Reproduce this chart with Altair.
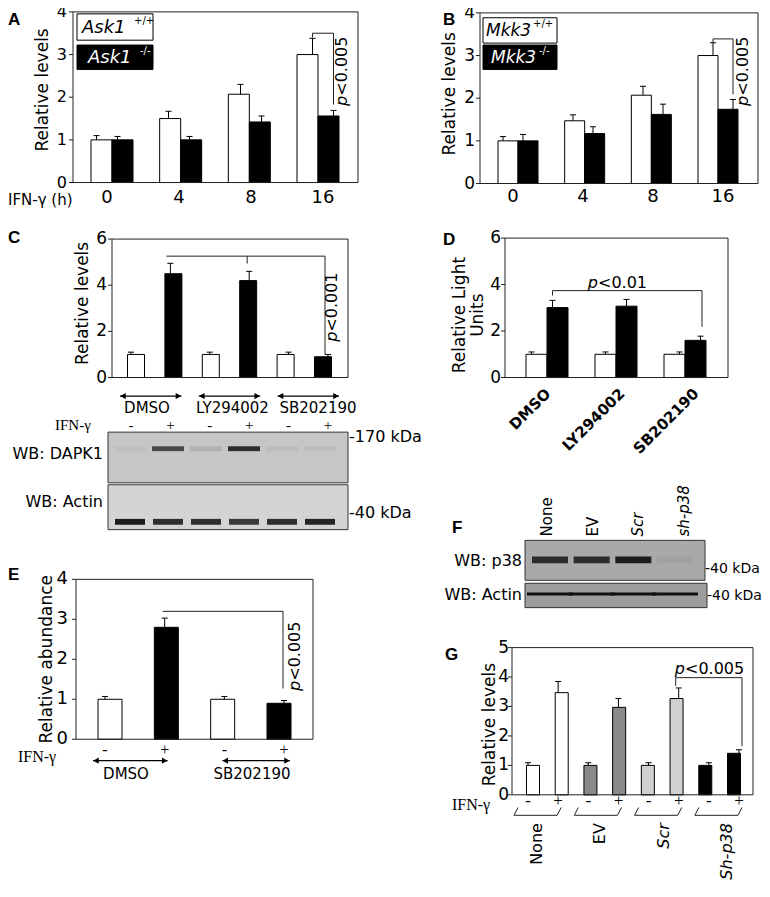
import altair as alt
import pandas as pd

# ---------------- data ----------------
a_groups = ["0", "4", "8", "16"]
a_wt = [1.0, 1.5, 2.07, 3.0]
a_wt_err = [0.1, 0.17, 0.23, 0.38]
a_ko = [1.0, 1.0, 1.42, 1.56]
a_ko_err = [0.08, 0.08, 0.14, 0.13]
a_yticks = [0, 1, 2, 3, 4]

b_groups = ["0", "4", "8", "16"]
b_wt = [1.0, 1.47, 2.07, 3.0]
b_wt_err = [0.1, 0.14, 0.21, 0.3]
b_ko = [1.0, 1.17, 1.62, 1.74]
b_ko_err = [0.15, 0.16, 0.24, 0.23]
b_yticks = [0, 1, 2, 3, 4]

c_ifn = ["-", "+", "-", "+", "-", "+"]
c_vals = [1.0, 4.5, 1.0, 4.2, 1.0, 0.9]
c_err = [0.1, 0.45, 0.1, 0.4, 0.1, 0.1]
c_groups = ["DMSO", "LY294002", "SB202190"]
c_yticks = [0, 2, 4, 6]
c_dapk1 = [0.04, 0.75, 0.12, 0.92, 0.06, 0.06]
c_actin = [0.95, 0.85, 0.85, 0.8, 0.85, 0.9]

d_groups = ["DMSO", "LY294002", "SB202190"]
d_ctrl = [1.0, 1.0, 1.0]
d_ctrl_err = [0.1, 0.1, 0.1]
d_ifn = [3.01, 3.07, 1.6]
d_ifn_err = [0.31, 0.29, 0.18]
d_yticks = [0, 2, 4, 6]

e_ifn = ["-", "+", "-", "+"]
e_vals = [1.0, 2.8, 1.0, 0.9]
e_err = [0.07, 0.23, 0.07, 0.07]
e_groups = ["DMSO", "SB202190"]
e_yticks = [0, 1, 2, 3, 4]

f_lanes = ["None", "EV", "Scr", "sh-p38"]
f_p38 = [0.85, 0.85, 0.95, 0.06]
f_actin = [1.0, 1.0, 1.0, 1.0]

g_groups = ["None", "EV", "Scr", "Sh-p38"]
g_ifn = ["-", "+", "-", "+", "-", "+", "-", "+"]
g_vals = [1.0, 3.47, 1.0, 2.97, 1.0, 3.27, 1.0, 1.41]
g_err = [0.09, 0.38, 0.09, 0.3, 0.09, 0.36, 0.09, 0.12]
g_yticks = [0, 1, 2, 3, 4, 5]

# ---------------- helpers ----------------
W, H = 754, 874
SY = 0.975
SANS = "DejaVu Sans"
SERIF = "Liberation Serif"
BOLD = "Liberation Sans"
LINE = "#222222"


def PX(x):
    return x - 8


def PY(y):
    return y * SY


def xs(n, first, last):
    return alt.Scale(domain=[0, n - 1], range=[PX(first), PX(last)], nice=False)


def ys(vmax, bottom, top):
    return alt.Scale(domain=[0, vmax], range=[PY(bottom), PY(top)], nice=False)


def one():
    return pd.DataFrame({"k": [0]})


def text(label, x, y, size=16, align="center", baseline="middle", angle=None,
         font=SANS, style="normal", weight="normal", color="black"):
    props = dict(align=align, baseline=baseline, font=font, fontSize=size,
                 fontStyle=style, fontWeight=weight, color=color)
    if angle is not None:
        props["angle"] = angle
    return alt.Chart(pd.DataFrame({"t": [label]})).mark_text(**props).encode(
        text="t:N", x=alt.value(PX(x)), y=alt.value(PY(y)))


def box(x0, x1, y0, y1, fill="transparent", stroke=LINE, sw=1):
    return alt.Chart(one()).mark_rect(fill=fill, stroke=stroke, strokeWidth=sw).encode(
        x=alt.value(PX(x0)), x2=alt.value(PX(x1)), y=alt.value(PY(y0)), y2=alt.value(PY(y1)))


def bar_layers(df, sc, ysc, vcol, topcol, width, xoff=0.0, fill=None, fillenc=None):
    mk = dict(width=width, xOffset=xoff, stroke="black", strokeWidth=1, orient="vertical")
    if fill:
        mk["fill"] = fill
    enc = dict(x=alt.X("i:Q", scale=sc, axis=None), y=alt.Y(f"{vcol}:Q", scale=ysc, axis=None))
    if fillenc is not None:
        enc["fill"] = fillenc
    b = alt.Chart(df).mark_bar(**mk).encode(**enc)
    stem = alt.Chart(df).mark_rule(color="black", strokeWidth=1, xOffset=xoff).encode(
        x=alt.X("i:Q", scale=sc, axis=None), y=alt.Y(f"{vcol}:Q", scale=ysc, axis=None),
        y2=alt.Y2(topcol))
    cap = alt.Chart(df).mark_rule(color="black", strokeWidth=1, xOffset=xoff - 3,
                                  x2Offset=xoff + 3).encode(
        x=alt.X("i:Q", scale=sc, axis=None), x2=alt.X2("i"),
        y=alt.Y(f"{topcol}:Q", scale=ysc, axis=None))
    return [b, stem, cap]


def seg(sc, ysc, x1, x2, y1, y2, o1=0.0, o2=0.0, color=LINE):
    df = pd.DataFrame({"x1": [x1], "x2": [x2], "y1": [y1], "y2": [y2]})
    enc = {"x": alt.X("x1:Q", scale=sc, axis=None), "x2": alt.X2("x2")}
    if ysc is None:
        enc["y"] = alt.value(PY(y1))
        enc["y2"] = alt.value(PY(y2))
    else:
        enc["y"] = alt.Y("y1:Q", scale=ysc, axis=None)
        enc["y2"] = alt.Y2("y2")
    return alt.Chart(df).mark_rule(color=color, strokeWidth=1, xOffset=o1, x2Offset=o2).encode(**enc)


def bracket(sc, ysc, xa, oa, xb, ob, level, enda=None, endb=None):
    out = [seg(sc, ysc, xa, xb, level, level, oa, ob)]
    if enda is not None:
        out.append(seg(sc, ysc, xa, xa, level, enda, oa, oa))
    if endb is not None:
        out.append(seg(sc, ysc, xb, xb, level, endb, ob, ob))
    return out


def ptext(x, y, rest, angle=None, size=16):
    if angle == 270:
        return [text("p", x, y, size, align="right", angle=270, style="italic"),
                text(rest, x, y, size, align="left", angle=270)]
    return [text("p", x, y, size, align="right", style="italic"),
            text(rest, x, y, size, align="left")]


def yaxis(ticks, ysc, frame_left, label_right, size):
    df = pd.DataFrame({"v": ticks, "t": [str(t) for t in ticks]})
    tk = alt.Chart(df).mark_rule(color=LINE, strokeWidth=1).encode(
        y=alt.Y("v:Q", scale=ysc, axis=None),
        x=alt.value(PX(frame_left - 4)), x2=alt.value(PX(frame_left)))
    lb = alt.Chart(df).mark_text(align="right", baseline="middle", font=SANS, fontSize=size).encode(
        y=alt.Y("v:Q", scale=ysc, axis=None), x=alt.value(PX(label_right)), text="t:N")
    return [tk, lb]


def xlabels(labels, sc, y, size=16, font=SANS, style="normal", weight="normal",
            angle=None, align="center", baseline="middle", xoff=0, idx=None):
    df = pd.DataFrame({"i": idx if idx is not None else list(range(len(labels))), "t": labels})
    props = dict(align=align, baseline=baseline, font=font, fontSize=size, fontStyle=style,
                 fontWeight=weight, color="black", xOffset=xoff)
    if angle is not None:
        props["angle"] = angle
    return alt.Chart(df).mark_text(**props).encode(
        x=alt.X("i:Q", scale=sc, axis=None), y=alt.value(PY(y)), text="t:N")


def arrow(sc, i1, o1, i2, o2, y):
    df = pd.DataFrame({"a": [i1], "b": [i2]})
    line = alt.Chart(df).mark_rule(color="black", strokeWidth=1.3, xOffset=o1, x2Offset=o2).encode(
        x=alt.X("a:Q", scale=sc, axis=None), x2=alt.X2("b"), y=alt.value(PY(y)))
    left = alt.Chart(df).mark_point(shape="triangle-left", size=40, filled=True, color="black",
                                    opacity=1, xOffset=o1 + 3).encode(
        x=alt.X("a:Q", scale=sc, axis=None), y=alt.value(PY(y)))
    right = alt.Chart(df).mark_point(shape="triangle-right", size=40, filled=True, color="black",
                                     opacity=1, xOffset=o2 - 3).encode(
        x=alt.X("b:Q", scale=sc, axis=None), y=alt.value(PY(y)))
    return [line, left, right]


def bands(vals, sc, yc, h, w, color):
    df = pd.DataFrame({"i": list(range(len(vals))), "v": vals})
    return alt.Chart(df).mark_bar(width=w, color=color, orient="vertical").encode(
        x=alt.X("i:Q", scale=sc, axis=None),
        y=alt.value(PY(yc - h / 2)), y2=alt.value(PY(yc + h / 2)),
        opacity=alt.Opacity("v:Q", scale=alt.Scale(domain=[0, 1], range=[0, 1]), legend=None))


def tops(v, e):
    return [a + b for a, b in zip(v, e)]


layers = []
sign_fill = alt.Fill("s:N", scale=alt.Scale(domain=["-", "+"], range=["white", "black"]), legend=None)

# ---------------- Panel A ----------------
sa = xs(4, 107, 323)
ya = ys(4, 179, 4)
dfa = pd.DataFrame({"i": range(4), "wt": a_wt, "wt_top": tops(a_wt, a_wt_err),
                    "ko": a_ko, "ko_top": tops(a_ko, a_ko_err)})
layers += bar_layers(dfa, sa, ya, "wt", "wt_top", 21, -10.5, fill="white")
layers += bar_layers(dfa, sa, ya, "ko", "ko_top", 21, 10.5, fill="black")
layers.append(box(73, 358, 4, 179))
layers += yaxis(a_yticks, ya, 73, 67, 16)
layers.append(xlabels(a_groups, sa, 195, 18))
layers.append(text("IFN-γ (h)", 8, 197, 15, align="left"))
layers.append(text("Relative levels", 43, 84, 17, angle=270))
layers.append(text("A", 8, 12, 17, align="left", font=BOLD, weight="bold"))
layers.append(box(77, 153, 6, 33, fill="white", stroke="black"))
layers.append(box(77, 153, 38, 63, fill="black", stroke="black"))
layers.append(text("Ask1", 82, 20, 18, align="left", style="italic"))
layers.append(text("+/+", 134, 13, 10, align="left"))
layers.append(text("Ask1", 88, 51, 18, align="left", style="italic", color="white"))
layers.append(text("-/-", 140, 44, 10, align="left", color="white"))
layers += bracket(sa, ya, 3, -10.5, 3, 10.5, 3.5, 3.4, 1.83)
layers += ptext(342, 90, "<0.005", 270)

# ---------------- Panel B ----------------
sb = xs(4, 513, 723)
yb = ys(4, 180, 5)
dfb = pd.DataFrame({"i": range(4), "wt": b_wt, "wt_top": tops(b_wt, b_wt_err),
                    "ko": b_ko, "ko_top": tops(b_ko, b_ko_err)})
layers += bar_layers(dfb, sb, yb, "wt", "wt_top", 20, -10, fill="white")
layers += bar_layers(dfb, sb, yb, "ko", "ko_top", 20, 10, fill="black")
layers.append(box(480, 758, 5, 180))
layers += yaxis(b_yticks, yb, 480, 475, 17)
layers.append(xlabels(b_groups, sb, 194, 18))
layers.append(text("Relative levels", 450, 88, 17, angle=270))
layers.append(text("B", 443, 12, 17, align="left", font=BOLD, weight="bold"))
layers.append(box(483, 557, 10, 36, fill="white", stroke="black"))
layers.append(box(483, 557, 38, 63, fill="black", stroke="black"))
layers.append(text("Mkk3", 486, 24, 17, align="left", style="italic"))
layers.append(text("+/+", 533, 16, 10, align="left"))
layers.append(text("Mkk3", 491, 51, 17, align="left", style="italic", color="white"))
layers.append(text("-/-", 539, 44, 10, align="left", color="white"))
layers += bracket(sb, yb, 3, -10, 3, 10, 3.39, 3.31, 2.09)
layers += ptext(743, 90, "<0.005", 270)

# ---------------- Panel C ----------------
scc = xs(6, 131, 328)
yc = ys(6, 379, 237)
dfc = pd.DataFrame({"i": range(6), "s": c_ifn, "v": c_vals, "top": tops(c_vals, c_err)})
layers += bar_layers(dfc, scc, yc, "v", "top", 17, 0, fillenc=sign_fill)
layers.append(box(112, 348, 237, 379))
layers += yaxis(c_yticks, yc, 112, 107, 17)
layers.append(text("Relative levels", 83, 303, 17, angle=270))
layers.append(text("C", 8, 236, 17, align="left", font=BOLD, weight="bold"))
layers += bracket(scc, yc, 1, -4, 5, -3, 5.26, None, 1.0)
layers.append(seg(scc, yc, 3, 3, 5.26, 4.94, -2, -2))
layers += ptext(332, 332, "<0.001", 270)
for k in range(3):
    layers += arrow(scc, 2 * k, -11, 2 * k + 1, 11, 398)
sgc = xs(3, 147, 318)
layers.append(xlabels(c_groups, sgc, 410, 15))
layers.append(text("IFN-γ", 55, 428, 15, align="left", font=SERIF))
layers.append(xlabels(c_ifn, scc, 428, 15, font=SERIF))
layers.append(box(108, 348, 435, 487, fill="#c6c6c6", stroke="#333333"))
layers.append(box(108, 348, 489, 535, fill="#d4d4d4", stroke="#333333"))
sbc = xs(6, 125, 325)
layers.append(bands(c_dapk1, sbc, 452, 5, 32, "#1e1e1e"))
layers.append(bands(c_actin, sbc, 527, 6, 30, "#111111"))
layers.append(text("WB: DAPK1", 103, 457, 16, align="right"))
layers.append(text("WB: Actin", 103, 507, 16, align="right"))
layers.append(text("-170 kDa", 349, 440, 16, align="left"))
layers.append(text("-40 kDa", 349, 518, 16, align="left"))

# ---------------- Panel D ----------------
sd = xs(3, 542, 690)
yd = ys(6, 379, 236)
dfd = pd.DataFrame({"i": range(3), "c": d_ctrl, "c_top": tops(d_ctrl, d_ctrl_err),
                    "v": d_ifn, "v_top": tops(d_ifn, d_ifn_err)})
layers += bar_layers(dfd, sd, yd, "c", "c_top", 21, -10.5, fill="white")
layers += bar_layers(dfd, sd, yd, "v", "v_top", 21, 10.5, fill="black")
layers.append(box(505, 728, 236, 379))
layers += yaxis(d_yticks, yd, 505, 501, 17)
layers.append(text("Relative Light", 460, 315, 17, angle=270))
layers.append(text("Units", 478, 315, 17, angle=270))
layers.append(text("D", 443, 238, 17, align="left", font=BOLD, weight="bold"))
layers += bracket(sd, yd, 0, 10.5, 2, 12, 3.74, 3.53, 2.18)
layers += ptext(598, 282, "<0.01")
layers.append(xlabels(d_groups, sd, 393, 15, weight="bold", angle=315, align="right", xoff=6))

# ---------------- Panel E ----------------
se = xs(4, 105, 284)
ye = ys(4, 750, 586)
dfe = pd.DataFrame({"i": range(4), "s": e_ifn, "v": e_vals, "top": tops(e_vals, e_err)})
layers += bar_layers(dfe, se, ye, "v", "top", 24, 0, fillenc=sign_fill)
layers.append(box(76, 313, 586, 750))
layers += yaxis(e_yticks, ye, 76, 68, 18)
layers.append(text("Relative abundance", 47, 668, 17, angle=270))
layers.append(text("E", 8, 582, 17, align="left", font=BOLD, weight="bold"))
layers += bracket(se, ye, 1, -2, 3, -1, 3.2, None, 1.27)
layers += ptext(295, 690, "<0.005", 270)
layers.append(xlabels(e_ifn, se, 761, 16, font=SERIF))
layers.append(text("IFN-γ", 18, 768, 16, align="left", font=SERIF))
layers += arrow(se, 0, -12, 1, 3, 772)
layers += arrow(se, 2, -2, 3, 6, 772)
sge = xs(2, 126, 252)
layers.append(xlabels(e_groups, sge, 786, 15))

# ---------------- Panel F ----------------
layers.append(text("F", 452, 533, 17, align="left", font=BOLD, weight="bold"))
sfl = xs(4, 547, 684)
layers.append(xlabels(f_lanes[:2], sfl, 542, 15, angle=270, align="left", idx=[0, 1]))
layers.append(xlabels(f_lanes[2:], sfl, 542, 15, style="italic", angle=270, align="left", idx=[2, 3]))
layers.append(box(525, 705, 546, 587, fill="#a9a9a9", stroke="#333333"))
layers.append(box(525, 707, 590, 615, fill="#9d9d9d", stroke="#333333"))
sfb = xs(4, 545, 680)
layers.append(bands(f_p38, sfb, 566, 7, 36, "#151515"))
layers.append(bands(f_actin, sfb, 601, 3, 46, "#111111"))
layers.append(text("WB: p38", 522, 567, 16, align="right"))
layers.append(text("WB: Actin", 522, 602, 16, align="right"))
layers.append(text("-40 kDa", 705, 575, 14, align="left"))
layers.append(text("-40 kDa", 707, 603, 14, align="left"))

# ---------------- Panel G ----------------
sg = xs(8, 528, 739)
yg = ys(5, 807, 656)
dfg = pd.DataFrame({"i": range(8), "grp": [g for g in g_groups for _ in (0, 1)],
                    "v": g_vals, "top": tops(g_vals, g_err)})
g_fill = alt.Fill("grp:N", scale=alt.Scale(domain=g_groups,
                                           range=["white", "#8a8a8a", "#d0d0d0", "black"]), legend=None)
layers += bar_layers(dfg, sg, yg, "v", "top", 13, 0, fillenc=g_fill)
layers.append(box(512, 753, 656, 807))
layers += yaxis(g_yticks, yg, 512, 509, 17)
layers.append(text("Relative levels", 490, 735, 17, angle=270))
layers.append(text("G", 445, 664, 17, align="left", font=BOLD, weight="bold"))
layers += bracket(sg, yg, 5, -3, 7, 3, 3.98, 3.7, 1.65)
layers += ptext(685, 678, "<0.005")
layers.append(xlabels(g_ifn, sg, 813, 17, font=SERIF))
layers.append(text("IFN-γ", 452, 817, 16, align="left", font=SERIF))
dfs = pd.DataFrame({"a": [0, 2, 4, 6], "b": [1, 3, 5, 7]})
layers.append(alt.Chart(dfs).mark_rule(color=LINE, strokeWidth=1, xOffset=-14, x2Offset=-1).encode(
    x=alt.X("a:Q", scale=sg, axis=None), x2=alt.X2("b"), y=alt.value(PY(828))))
layers.append(alt.Chart(dfs).mark_rule(color=LINE, strokeWidth=1, xOffset=-14, x2Offset=-10).encode(
    x=alt.X("a:Q", scale=sg, axis=None), x2=alt.X2("a"), y=alt.value(PY(828)), y2=alt.value(PY(820))))
layers.append(alt.Chart(dfs).mark_rule(color=LINE, strokeWidth=1, xOffset=-1, x2Offset=3).encode(
    x=alt.X("b:Q", scale=sg, axis=None), x2=alt.X2("b"), y=alt.value(PY(828)), y2=alt.value(PY(820))))
sgl = xs(4, 537, 727)
layers.append(xlabels(g_groups[:2], sgl, 836, 16, angle=270, align="right", idx=[0, 1]))
layers.append(xlabels(g_groups[2:], sgl, 836, 16, style="italic", angle=270, align="right", idx=[2, 3]))

chart = alt.layer(*layers).properties(
    width=W, height=H, padding=0, autosize=alt.AutoSizeParams(type="none"), background="white"
).resolve_scale(
    x="independent", y="independent", fill="independent", opacity="independent"
).configure_view(stroke=None)

chart.save("out.html", embed_options={"renderer": "svg", "actions": False})
